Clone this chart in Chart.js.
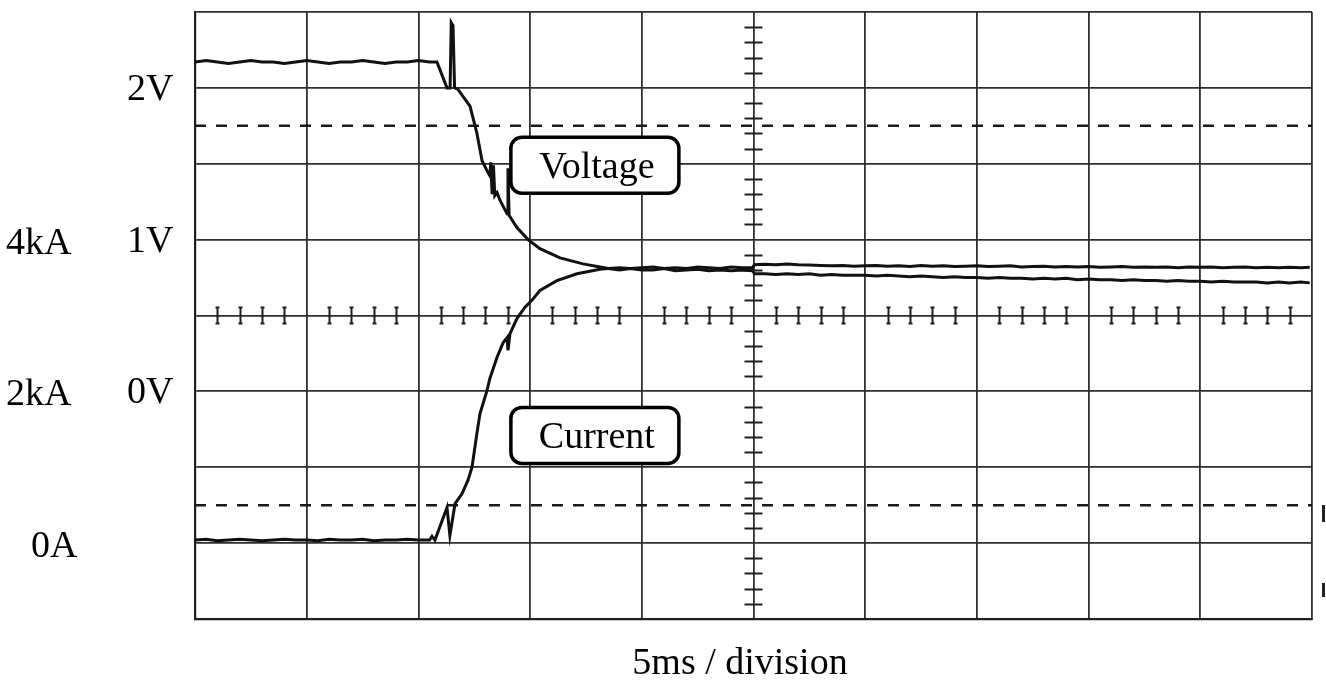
<!DOCTYPE html>
<html>
<head>
<meta charset="utf-8">
<script src="https://cdn.jsdelivr.net/npm/chart.js@4.4.1/dist/chart.umd.min.js"></script>
<style>
  html, body { margin: 0; padding: 0; background: #ffffff; }
  #wrap { width: 1326px; height: 680px; }
</style>
</head>
<body>
<div id="wrap"><canvas id="scope" width="1326" height="680"></canvas></div>
<script>
// Sweep: 5 ms per division, 10 divisions
const sweepMs = [0, 50];
const msPerDivision = 5;

// Voltage trace (time in ms, volts)
const voltageTime = [
  0, 0.5, 1, 1.5, 2, 2.5, 3, 3.5, 4, 4.5, 5, 5.5, 6, 6.5, 7, 7.5, 8, 8.5, 9, 9.5, 10, 10.5, 10.83,
  11.28, 11.42, 11.47, 11.55, 11.62,
  11.77, 12.31, 12.62, 12.85, 13.12, 13.2, 13.24, 13.3, 13.36, 13.42, 13.52, 13.65, 13.97, 14.01, 14.06,
  14.41, 14.91, 15.44, 16.34, 17.37, 18.13,
  18.5, 19, 19.5, 20, 20.5, 21, 21.5, 22, 22.5, 23, 23.5, 24, 24.5, 24.95,
  25.05, 25.5, 26, 26.5, 27, 27.5, 28, 28.5, 29, 29.5, 30, 30.5, 31, 31.5, 32, 32.5, 33, 33.5, 34, 34.5,
  35, 35.5, 36, 36.5, 37, 37.5, 38, 38.5, 39, 39.5, 40, 40.5, 41, 41.5, 42, 42.5, 43, 43.5, 44, 44.5,
  45, 45.5, 46, 46.5, 47, 47.5, 48, 48.5, 49, 49.5, 49.9
];
const voltageValue = [
  2.17, 2.18, 2.17, 2.16, 2.17, 2.18, 2.17, 2.17, 2.16, 2.17, 2.18, 2.17, 2.16, 2.17, 2.17, 2.18, 2.17, 2.16, 2.17, 2.17, 2.18, 2.17, 2.17,
  2.0, 2.0, 2.43, 2.41, 2.0,
  1.99, 1.88, 1.70, 1.52, 1.44, 1.42, 1.51, 1.30, 1.49, 1.29, 1.31, 1.26, 1.17, 1.47, 1.16,
  1.08, 1.00, 0.94, 0.88, 0.84, 0.82,
  0.81, 0.80, 0.81, 0.80, 0.80, 0.81, 0.795, 0.80, 0.805, 0.795, 0.80, 0.795, 0.80, 0.795,
  0.775, 0.775, 0.77, 0.775, 0.77, 0.775, 0.765, 0.77, 0.765, 0.765, 0.765, 0.76, 0.765, 0.76, 0.755, 0.76, 0.755, 0.75, 0.755, 0.75,
  0.75, 0.745, 0.75, 0.745, 0.745, 0.74, 0.745, 0.74, 0.745, 0.735, 0.74, 0.735, 0.735, 0.73, 0.735, 0.73, 0.73, 0.725, 0.73, 0.725,
  0.725, 0.72, 0.725, 0.72, 0.72, 0.72, 0.715, 0.72, 0.715, 0.72, 0.715
];

// Current trace (time in ms, kA)
const currentTime = [
  0, 0.5, 1, 1.5, 2, 2.5, 3, 3.5, 4, 4.5, 5, 5.5, 6, 6.5, 7, 7.5, 8, 8.5, 9, 9.5, 10, 10.5, 10.61, 10.74,
  11.28, 11.41, 11.64, 11.95, 12.22, 12.4, 12.62, 12.76, 13.07, 13.2, 13.52, 13.79, 13.97, 14.01, 14.1,
  14.41, 14.77, 15.08, 15.44, 16.2, 17.1, 18.13,
  18.5, 19, 19.5, 20, 20.5, 21, 21.5, 22, 22.5, 23, 23.5, 24, 24.5, 24.95,
  25.05, 25.5, 26, 26.5, 27, 27.5, 28, 28.5, 29, 29.5, 30, 30.5, 31, 31.5, 32, 32.5, 33, 33.5, 34, 34.5,
  35, 35.5, 36, 36.5, 37, 37.5, 38, 38.5, 39, 39.5, 40, 40.5, 41, 41.5, 42, 42.5, 43, 43.5, 44, 44.5,
  45, 45.5, 46, 46.5, 47, 47.5, 48, 48.5, 49, 49.5, 49.9
];
const currentValue = [
  0.04, 0.05, 0.03, 0.04, 0.05, 0.04, 0.03, 0.04, 0.05, 0.04, 0.04, 0.03, 0.05, 0.04, 0.04, 0.05, 0.03, 0.04, 0.04, 0.05, 0.04, 0.04, 0.09, 0.04,
  0.47, 0.10, 0.52, 0.65, 0.83, 1.00, 1.45, 1.71, 2.01, 2.17, 2.45, 2.64, 2.71, 2.54, 2.76,
  2.96, 3.11, 3.20, 3.33, 3.46, 3.55, 3.61,
  3.62, 3.63, 3.62, 3.63, 3.64, 3.62, 3.63, 3.62, 3.64, 3.63, 3.62, 3.64, 3.63, 3.63,
  3.67, 3.675, 3.67, 3.68, 3.67, 3.665, 3.66, 3.655, 3.66, 3.65, 3.655, 3.66, 3.65, 3.655, 3.645, 3.66, 3.65, 3.655, 3.645, 3.65,
  3.655, 3.645, 3.65, 3.655, 3.64, 3.645, 3.65, 3.64, 3.645, 3.64, 3.645, 3.635, 3.64, 3.645, 3.635, 3.64, 3.635, 3.64, 3.63, 3.64,
  3.635, 3.64, 3.63, 3.635, 3.64, 3.63, 3.635, 3.63, 3.635, 3.63, 3.635
];

// Vertical scales: 8 divisions; 0.5 V/div and 1 kA/div
const voltageRange = [-1.5, 2.5];
const currentRange = [-1, 7];
const voltageTicks = [2, 1, 0];
const voltageTickLabels = ['2V', '1V', '0V'];
const currentTicks = [4, 2, 0];
const currentTickLabels = ['4kA', '2kA', '0A'];

// Dashed cursor levels (volts)
const cursorLevels = [1.75, -0.75];

// Trace captions, anchored in data units
const captions = [
  { text: 'Voltage', t: 17.9, v: 1.49, axis: 'yV' },
  { text: 'Current', t: 17.9, v: 1.42, axis: 'yI' }
];
const xTitle = '5ms / division';

const SERIF = '"Liberation Serif", "Times New Roman", serif';
const INK = '#111111';
const GRID = '#2e2e2e';

const toPoints = (ts, vs) => ts.map((t, i) => ({ x: t, y: vs[i] }));

// Centre graticule with 1/5-division minor marks
const graticule = {
  id: 'graticule',
  beforeDatasetsDraw(chart) {
    const { ctx, scales } = chart;
    const x = scales.x, y = scales.yV;
    const cx = x.getPixelForValue((sweepMs[0] + sweepMs[1]) / 2);
    const cy = y.getPixelForValue((voltageRange[0] + voltageRange[1]) / 2);
    ctx.save();
    ctx.strokeStyle = '#1e1e1e';
    ctx.lineWidth = 2;
    const minorMs = msPerDivision / 5;
    for (let t = sweepMs[0] + minorMs; t < sweepMs[1]; t += minorMs) {
      if (Math.abs(t / msPerDivision - Math.round(t / msPerDivision)) < 1e-6) continue;
      const px = Math.round(x.getPixelForValue(t)) + 0.5;
      ctx.beginPath();
      ctx.moveTo(px, cy - 8); ctx.lineTo(px, cy + 8);
      ctx.moveTo(px - 2, cy - 8); ctx.lineTo(px + 2, cy - 8);
      ctx.moveTo(px - 2, cy + 8); ctx.lineTo(px + 2, cy + 8);
      ctx.stroke();
    }
    const minorV = 0.1;
    for (let v = voltageRange[0] + minorV; v < voltageRange[1] - 1e-6; v += minorV) {
      if (Math.abs(v / 0.5 - Math.round(v / 0.5)) < 1e-6) continue;
      const py = Math.round(y.getPixelForValue(v)) + 0.5;
      ctx.beginPath();
      ctx.moveTo(cx - 9, py); ctx.lineTo(cx + 9, py);
      ctx.stroke();
    }
    ctx.restore();
  }
};

// Axis labels, sweep title and boxed captions
const annotations = {
  id: 'annotations',
  afterDraw(chart) {
    const { ctx, scales, chartArea } = chart;
    ctx.save();
    ctx.fillStyle = '#000';
    ctx.font = '38px ' + SERIF;
    ctx.textBaseline = 'middle';
    ctx.textAlign = 'left';
    voltageTicks.forEach((v, i) => {
      ctx.fillText(voltageTickLabels[i], 127, scales.yV.getPixelForValue(v) + 2);
    });
    currentTicks.forEach((a, i) => {
      const lx = a === 0 ? 31 : 6;
      ctx.fillText(currentTickLabels[i], lx, scales.yI.getPixelForValue(a) + 4);
    });
    ctx.textAlign = 'center';
    ctx.textBaseline = 'alphabetic';
    ctx.fillText(xTitle, 740, 674);

    captions.forEach(c => {
      const px = scales.x.getPixelForValue(c.t);
      const py = scales[c.axis].getPixelForValue(c.v);
      const w = 168, h = 56, r = 11;
      const x0 = px - w / 2, y0 = py - h / 2;
      ctx.beginPath();
      ctx.moveTo(x0 + r, y0);
      ctx.lineTo(x0 + w - r, y0);
      ctx.arcTo(x0 + w, y0, x0 + w, y0 + r, r);
      ctx.lineTo(x0 + w, y0 + h - r);
      ctx.arcTo(x0 + w, y0 + h, x0 + w - r, y0 + h, r);
      ctx.lineTo(x0 + r, y0 + h);
      ctx.arcTo(x0, y0 + h, x0, y0 + h - r, r);
      ctx.lineTo(x0, y0 + r);
      ctx.arcTo(x0, y0, x0 + r, y0, r);
      ctx.closePath();
      ctx.fillStyle = '#fff';
      ctx.fill();
      ctx.lineWidth = 3.5;
      ctx.strokeStyle = '#000';
      ctx.stroke();
      ctx.fillStyle = '#000';
      ctx.textBaseline = 'middle';
      ctx.fillText(c.text, px + 2, py + 3);
    });

    // small dark specks just outside the right edge of the screen
    ctx.fillStyle = '#222';
    ctx.fillRect(chartArea.right + 10, 505, 3, 17);
    ctx.fillRect(chartArea.right + 10, 583, 3, 14);
    ctx.restore();
  }
};

const traceStyle = {
  borderColor: INK,
  borderWidth: 3,
  pointRadius: 0,
  tension: 0,
  fill: false
};

new Chart(document.getElementById('scope'), {
  type: 'line',
  data: {
    datasets: [
      Object.assign({ label: 'Voltage', data: toPoints(voltageTime, voltageValue), yAxisID: 'yV' }, traceStyle),
      Object.assign({ label: 'Current', data: toPoints(currentTime, currentValue), yAxisID: 'yI' }, traceStyle),
      ...cursorLevels.map(level => ({
        label: 'cursor',
        data: [{ x: sweepMs[0], y: level }, { x: sweepMs[1], y: level }],
        yAxisID: 'yV',
        borderColor: '#1a1a1a',
        borderWidth: 2.6,
        borderDash: [11, 10],
        pointRadius: 0,
        fill: false
      }))
    ]
  },
  options: {
    responsive: false,
    animation: false,
    devicePixelRatio: 1,
    layout: { padding: { left: 195, right: 14, top: 12, bottom: 61 } },
    plugins: { legend: { display: false }, tooltip: { enabled: false } },
    scales: {
      x: {
        type: 'linear',
        min: sweepMs[0], max: sweepMs[1],
        ticks: { display: false, stepSize: msPerDivision },
        grid: { color: GRID, lineWidth: 1.8, drawTicks: false },
        border: { display: true, color: '#1e1e1e', width: 2.2 }
      },
      yV: {
        type: 'linear', position: 'left',
        min: voltageRange[0], max: voltageRange[1],
        ticks: { display: false, stepSize: 0.5 },
        grid: { color: GRID, lineWidth: 1.8, drawTicks: false },
        border: { display: true, color: '#1e1e1e', width: 2.2 }
      },
      yI: {
        type: 'linear', position: 'right', display: false,
        min: currentRange[0], max: currentRange[1]
      }
    }
  },
  plugins: [graticule, annotations]
});
</script>
</body>
</html>
